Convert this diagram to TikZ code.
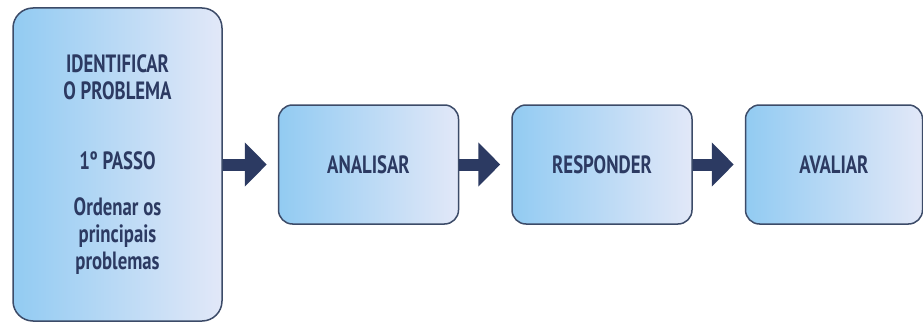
\documentclass[tikz,border=0pt]{standalone}
\usepackage{fontspec}
\setmainfont{PT Sans}[FakeStretch=0.75]
\usetikzlibrary{positioning,arrows.meta}
\definecolor{boxline}{HTML}{3C4B68}
\definecolor{boxleft}{HTML}{92CBF2}
\definecolor{boxright}{HTML}{E2E8F8}
\definecolor{navy}{HTML}{2C3A62}
\tikzset{
  stage/.style={draw=boxline,line width=1.5pt,rounded corners=14pt,
    left color=boxleft,right color=boxright,text=navy,align=center,
    font=\fontsize{25}{27}\selectfont\bfseries,
    minimum width=180pt,minimum height=119pt,inner sep=0pt},
  flow/.style={navy,line width=12pt,-{Triangle[length=22pt,width=43pt]},shorten >=11pt}
}
\begin{document}
\begin{tikzpicture}[x=1pt,y=1pt]
  \useasboundingbox (0,0) rectangle (923,322);
  \node[stage,rounded corners=20pt,minimum width=209pt,minimum height=313pt] (ident) at (117.5,157.5)
    {IDENTIFICAR\\O PROBLEMA\\[43pt]1º PASSO\\[19pt]Ordenar os\\principais\\problemas};
  \node[stage,right=55pt of ident] (analisar) {ANALISAR};
  \node[stage,right=52pt of analisar] (responder) {RESPONDER};
  \node[stage,right=52pt of responder,minimum width=177pt] (avaliar) {AVALIAR};
  \draw[flow] (ident) -- (analisar);
  \draw[flow] (analisar) -- (responder);
  \draw[flow] (responder) -- (avaliar);
\end{tikzpicture}
\end{document}
